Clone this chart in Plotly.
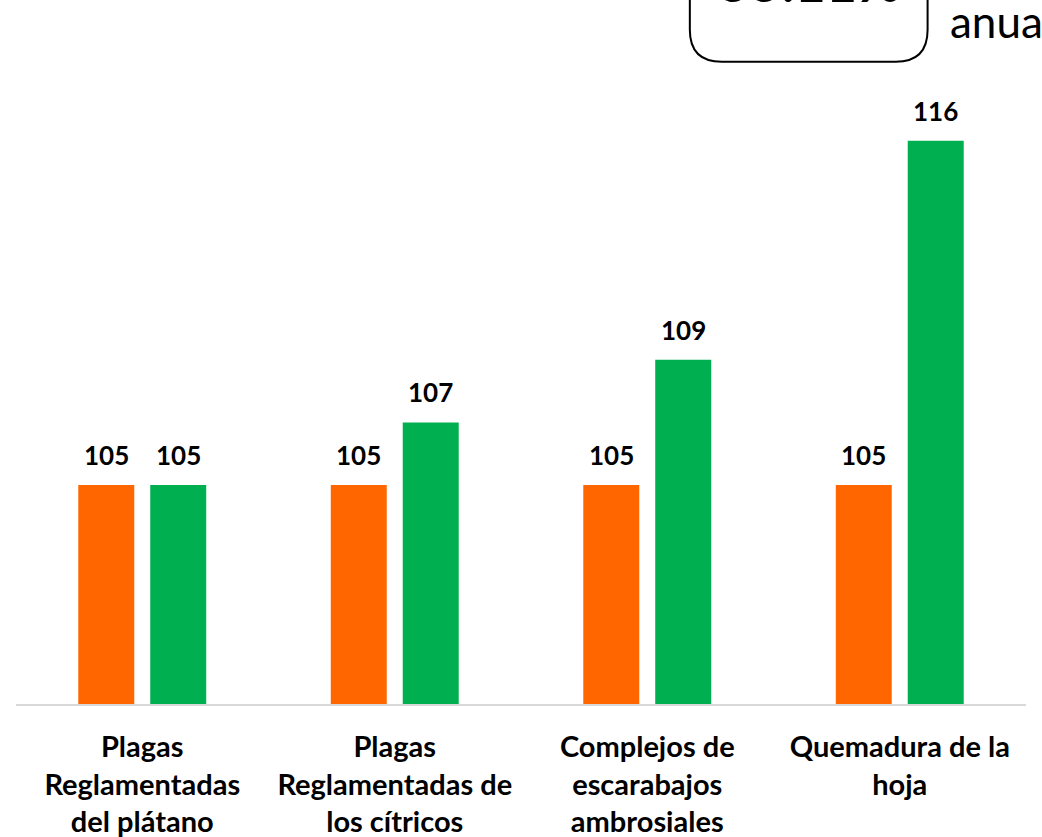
import plotly.graph_objects as go

categories = [
    "<b>Plagas<br>Reglamentadas<br>del plátano</b>",
    "<b>Plagas<br>Reglamentadas de<br>los cítricos</b>",
    "<b>Complejos de<br>escarabajos<br>ambrosiales</b>",
    "<b>Quemadura de la<br>hoja</b>",
]
serie_base = [105, 105, 105, 105]
serie_actual = [105, 107, 109, 116]
box_text = "<b>55.11%</b>"
side_text = "anual"

W, H = 1042, 837
ML, MR, MT, MB = 15.5, 15.5, 47.3, 133
PW, PH = W - ML - MR, H - MT - MB
FONT = "Lato, Open Sans, sans-serif"


def px(x):
    return (x - ML) / PW


def py(y):
    return (H - MB - y) / PH


fig = go.Figure()
fig.add_trace(go.Bar(x=categories, y=serie_base, name="Base",
                     marker_color="#FF6600", marker_line_width=0))
fig.add_trace(go.Bar(x=categories, y=serie_actual, name="Actual",
                     marker_color="#00B050", marker_line_width=0))

# value labels above each bar (data coordinates)
for vals, shift in ((serie_base, -36), (serie_actual, 36)):
    for cat, v in zip(categories, vals):
        fig.add_annotation(x=cat, y=v, xref="x", yref="y", text=f"<b>{v}</b>",
                           showarrow=False, xshift=shift, yshift=12,
                           yanchor="bottom", xanchor="center",
                           font=dict(family=FONT, size=26, color="black"))

# rounded box (partially clipped at top)
x0, x1, y0, y1, r = 690, 928, -60, 62, 32
path = (
    f"M {px(x0)},{py(y0)} L {px(x0)},{py(y1 - r)} "
    f"Q {px(x0)},{py(y1)} {px(x0 + r)},{py(y1)} "
    f"L {px(x1 - r)},{py(y1)} "
    f"Q {px(x1)},{py(y1)} {px(x1)},{py(y1 - r)} "
    f"L {px(x1)},{py(y0)}"
)
fig.add_shape(type="path", path=path, xref="paper", yref="paper",
              line=dict(color="black", width=2), fillcolor="rgba(0,0,0,0)")
fig.add_annotation(text=box_text, xref="paper", yref="paper",
                   x=px(810), y=py(16), xanchor="center", yanchor="bottom",
                   showarrow=False,
                   font=dict(family=FONT, size=54, color="black"))
fig.add_annotation(text=side_text, xref="paper", yref="paper",
                   x=px(948), y=py(21), xanchor="left", yanchor="middle",
                   showarrow=False,
                   font=dict(family=FONT, size=44, color="black"))

fig.update_layout(
    width=W, height=H,
    margin=dict(l=ML, r=MR, t=MT, b=MB, pad=0, autoexpand=False),
    plot_bgcolor="white", paper_bgcolor="white",
    barmode="group", bargap=0.43, bargroupgap=0.222,
    showlegend=False,
    font=dict(family=FONT, color="black"),
)
fig.update_xaxes(showline=True, linecolor="#D9D9D9", linewidth=2,
                 tickfont=dict(family=FONT, size=29, color="black"), ticks="",
                 ticklabelstandoff=16, automargin=False)
fig.update_yaxes(range=[98, 119], visible=False, showgrid=False,
                 automargin=False)

fig.write_html("out.html", config={"displayModeBar": False},
               post_script="document.body.style.margin='0';document.body.style.overflow='hidden';")
